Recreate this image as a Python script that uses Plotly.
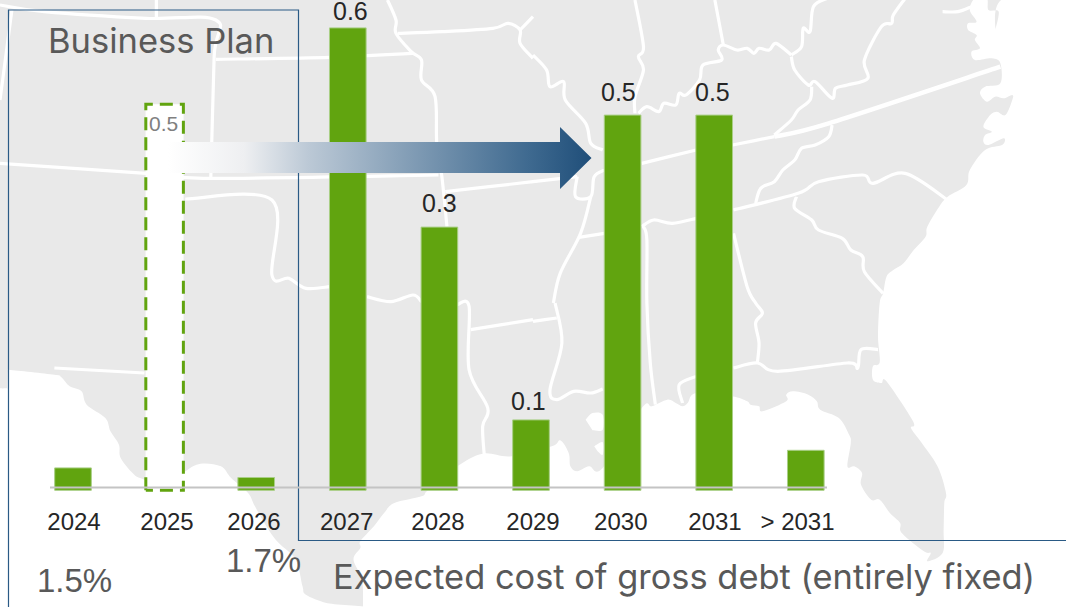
import plotly.graph_objects as go

W, H = 1066, 607

# ---------- data ----------
categories = ["2024", "2025", "2026", "2027", "2028", "2029", "2030", "2031", "> 2031"]
maturities = [0.028, None, 0.016, 0.578, 0.329, 0.088, 0.469, 0.469, 0.050]
plan_2025 = [None, 0.4825, None, None, None, None, None, None, None]
bar_labels = ["", "", "", "0.6", "0.3", "0.1", "0.5", "0.5", ""]
plan_label = "0.5"
cost_labels = ["1.5%", "1.7%"]
left_title = "Business Plan"
right_title = "Expected cost of gross debt (entirely fixed)"

# ---------- layout constants ----------
X0, DX = 73.0, 91.6
Y0, DY = 490.3, 800.0
def ax_x(p): return (p - X0) / DX
def ax_y(p): return (Y0 - p) / DY

label_px = [74, 167, 254, 346.7, 438, 533, 620.8, 715, 797.5]
label_xshift = [0, 0, 0, 2.5, 0, -2.5, -4, -2, 0]
label_yshift = [0, 0, 0, 17, 24, 19, 23, 23, 0]
GREEN = "#61A40F"
EDGE = "#A9CF86"
BLUE = "#2A5A85"
TXT = "#262626"
GREY = "#595959"
FONT = "Liberation Sans"
TITLE_FONT = "Inter"

# ---------- map helpers (background decoration, in reference pixels) ----------
def t1(p): return [(x / 2.942, y / 3) for x, y in p]
def t2(p): return [(533 + x / 2.942, y / 3) for x, y in p]
def t3(p): return [(x / 2.942, 303 + y / 3) for x, y in p]
def t4(p): return [(533 + x / 2.942, 303 + y / 3) for x, y in p]

def P(x, y): return f"{x / W:.5f},{1 - y / H:.5f}"

def smooth(pts, close=False):
    d = "M" + P(*pts[0])
    n = len(pts)
    for i in range(n - 1):
        a = pts[max(i - 1, 0)]; b = pts[i]; c = pts[i + 1]; e = pts[min(i + 2, n - 1)]
        c1 = (b[0] + (c[0] - a[0]) / 6, b[1] + (c[1] - a[1]) / 6)
        c2 = (c[0] - (e[0] - b[0]) / 6, c[1] - (e[1] - b[1]) / 6)
        d += " C" + P(*c1) + " " + P(*c2) + " " + P(*c)
    return d + (" Z" if close else "")

LAND = "#E9E9E9"
shapes = [dict(type="rect", xref="paper", yref="paper", x0=0, x1=1, y0=0, y1=1,
               fillcolor=LAND, line_width=0, layer="below")]

mexico = t3([(-5, 255), (-5, 256), (21, 256), (22, 255), (23, 215), (24, 201), (26, 200), (160, 215), (180, 222), (205, 250), (240, 265), (255, 305),
             (310, 345), (325, 385), (350, 425), (355, 465), (395, 515), (425, 530), (480, 560), (545, 505),
             (590, 482), (650, 490), (680, 525), (730, 570), (750, 610), (790, 680), (820, 720), (870, 770),
             (890, 850), (900, 875), (960, 900), (1020, 915), (-5, 915)])
sea = (t3([(1068, 915), (1065, 830), (1040, 770), (1060, 735), (1060, 715), (1100, 670), (1130, 630), (1160, 600),
           (1240, 580), (1260, 560), (1345, 490), (1420, 452), (1505, 460)])
       + t4([(55, 430), (80, 412), (105, 450), (110, 490), (130, 505), (165, 490), (205, 495), (320, 315), (350, 310),
             (395, 290), (420, 300), (440, 310), (455, 300), (480, 270), (585, 280), (630, 295), (640, 305),
             (665, 310), (675, 325), (745, 295), (745, 275), (765, 265), (810, 275), (835, 295), (845, 320),
             (900, 345), (930, 395), (935, 420), (925, 490), (945, 490), (968, 510), (965, 545), (995, 590),
             (1020, 590), (1050, 630), (1080, 660), (1085, 690), (1150, 745), (1170, 750), (1160, 775),
             (1205, 750), (1208, 680), (1210, 600), (1215, 570), (1190, 490), (1140, 415), (1112, 375),
             (1118, 355), (1040, 235), (1025, 240), (1000, 230), (1000, 190), (1020, 178), (1015, 100), (1020, 0)])
       + t2([(1030, 880), (1040, 830), (1060, 810), (1090, 790), (1120, 750), (1155, 710), (1160, 680), (1195, 620),
             (1220, 590), (1275, 555), (1285, 510), (1330, 450), (1380, 435), (1385, 415), (1340, 435), (1325, 425),
             (1330, 405), (1350, 395), (1325, 380), (1345, 345), (1365, 335), (1390, 345), (1410, 300), (1410, 285),
             (1385, 295), (1360, 290), (1335, 305), (1315, 280), (1330, 260), (1375, 250), (1375, 190), (1350, 175),
             (1300, 180), (1290, 155), (1315, 145), (1300, 120), (1305, 105), (1280, 90), (1280, 70), (1305, 65),
             (1285, 30), (1300, -5), (1335, -5), (1340, 30), (1370, 35), (1360, 90), (1385, -5)])
       + [(1072, -5), (1072, 612)])
lakes = [t4([(155, 350), (175, 330), (205, 335), (205, 380), (175, 382)]),
         t4([(180, 430), (205, 418), (205, 455), (190, 445)])]
for poly in [mexico, sea] + lakes:
    shapes.append(dict(type="path", xref="paper", yref="paper", path=smooth(poly, True),
                       fillcolor="#FFFFFF", line_width=0, layer="below"))

thin = [
    t1([(0, 15), (130, 35), (430, 55), (635, 60), (630, 170), (620, 540)]),
    t1([(460, 0), (460, 55)]),
    t1([(35, 30), (0, 300)]),
    t1([(635, 178), (970, 172), (1215, 160)]),
    t1([(1140, 0), (1165, 60), (1165, 100), (1210, 155), (1240, 180), (1240, 240), (1280, 290), (1285, 430),
        (1300, 530), (1315, 680)]),
    t3([(1345, 5), (1380, 10), (1380, 200), (1435, 315), (1420, 370), (1425, 460)]),
    t3([(1385, 80), (1568, 50)]) ,
    t4([(0, 55), (70, 45)]),
    t4([(65, 0), (85, 120), (50, 260), (70, 290), (120, 265), (170, 270), (205, 258)]),
    t1([(1170, 100), (1300, 95), (1450, 85), (1495, 70), (1530, 90), (1530, 130), (1568, 175)]),
    t1([(1530, 90), (1568, 50)]),
    t2([(0, 165), (40, 210), (50, 260), (90, 245), (95, 300), (155, 370), (170, 430), (205, 450)]),
    t2([(210, 510), (180, 530), (170, 590), (125, 590), (130, 530)]),
    t2([(170, 590), (140, 700), (80, 820), (60, 909)]),
    t2([(135, 712), (210, 700)]),
    t1([(0, 490), (430, 520), (620, 535), (1290, 525)]),
    t1([(1310, 575), (1568, 545)]) + t2([(0, 545), (130, 530)]),
    t1([(545, 597), (800, 600), (800, 825), (850, 835), (900, 865), (970, 860)]),
    t1([(1080, 890), (1150, 905), (1215, 885), (1240, 905)]),
    t3([(160, 195), (425, 210)]),
    t2([(300, 0), (325, 140), (310, 170), (325, 210), (300, 290), (300, 340)]),
    t2([(310, 340), (335, 320), (370, 335), (385, 310), (420, 315), (430, 280), (450, 285), (490, 240), (500, 195),
        (555, 180), (545, 150), (560, 135), (600, 150), (630, 145), (650, 160), (665, 145), (695, 150), (715, 130),
        (760, 165)]),
    t2([(535, 0), (560, 135)]),
    t2([(760, 165), (790, 140), (795, 85), (815, 95), (825, 20), (865, -5)]),
    t2([(760, 170), (770, 210), (810, 255), (830, 245), (880, 295), (890, 265), (925, 255), (985, 235), (975, 180),
        (1025, 80), (1055, 70), (1060, 45), (1095, -5)]),
    t2([(820, 260), (815, 300), (780, 330), (760, 360), (710, 405)]),
    t2([(320, 490), (480, 450)]),
    t2([(587, 435), (710, 410)]),
    t2([(880, 375), (870, 410), (830, 435), (790, 445), (770, 480), (735, 510), (710, 545), (670, 565), (655, 610)]),
    t2([(590, 630), (780, 580), (840, 545), (970, 525), (1000, 550), (1095, 520), (1220, 600)]),
    t2([(775, 590), (770, 625), (820, 660), (840, 690), (910, 715), (935, 750), (970, 770), (975, 815), (1030, 880)]),
    t2([(320, 680), (355, 660), (410, 670), (480, 655)]),
    t2([(325, 680), (335, 720), (335, 909)]) + t4([(345, 180), (360, 305)]),
    t2([(590, 700), (630, 860), (655, 909)]) + t4([(675, 30), (655, 60), (665, 120), (660, 180)]),
    t4([(590, 195), (660, 180), (720, 205), (925, 180), (955, 195), (965, 140), (1015, 140)]),
    t4([(480, 220), (430, 245), (440, 300)]),
    t2([(1205, 35), (1250, 35), (1290, 20)]),
]
for ln in thin:
    shapes.append(dict(type="path", xref="paper", yref="paper", path=smooth(ln),
                       line=dict(color="#FFFFFF", width=3.2), layer="below"))
shapes.append(dict(type="path", xref="paper", yref="paper", path=smooth(t2([(710, 410), (870, 370), (1375, 200)])),
                   line=dict(color="#FFFFFF", width=4.5), layer="below"))

# frame of the two periods
shapes.append(dict(type="path", xref="paper", yref="paper",
                   path=f"M{P(8.5, 612)} L{P(8.5, 10)} L{P(298.5, 10)} L{P(298.5, 540.5)} L{P(1070, 540.5)}",
                   line=dict(color=BLUE, width=1.2), layer="below"))

# baseline
shapes.append(dict(type="line", xref="paper", yref="paper", x0=50 / W, x1=827 / W,
                   y0=1 - 487.5 / H, y1=1 - 487.5 / H, line=dict(color="#C4C4C4", width=2), layer="above"))

# ---------- figure ----------
xs = list(range(len(categories)))
fig = go.Figure()
fig.add_bar(x=xs, y=maturities, width=0.4, marker=dict(color=GREEN, line=dict(color=EDGE, width=1)),
            hoverinfo="skip", showlegend=False)
fig.add_bar(x=xs, y=plan_2025, width=0.415, marker=dict(color="#FFFFFF", line_width=0),
            hoverinfo="skip", showlegend=False)

# dashed outline of the 2025 bar (a trace, so that the arrow's white end covers it)
v25 = plan_2025[1]
fig.add_scatter(x=[1 - 0.205, 1 - 0.205, 1 + 0.205, 1 + 0.205, 1 - 0.205], y=[0, v25, v25, 0, 0], mode="lines",
                line=dict(color=GREEN, width=3, dash="13px,7px"), hoverinfo="skip", showlegend=False)

# gradient arrow
ax = [168, 560, 560, 591.5, 560, 560, 168, 168]
ay = [142, 142, 127, 158, 189, 173, 173, 142]
fig.add_scatter(x=[ax_x(v) for v in ax], y=[ax_y(v) for v in ay], mode="lines", fill="toself",
                line=dict(width=0, color="rgba(0,0,0,0)"), hoverinfo="skip", showlegend=False,
                fillgradient=dict(type="horizontal", colorscale=[
                    [0, "#FFFFFF"], [0.18, "#EEEFF1"], [0.33, "#BCC9D6"], [0.85, "#3F6A90"], [1, "#1F4E79"]]))

def note(text, x, y, size, color=GREY, family=FONT):
    return dict(text=text, xref="paper", yref="paper", x=x / W, y=1 - y / H, xanchor="center", yanchor="middle",
                showarrow=False, font=dict(family=family, size=size, color=color))

annotations = [note(left_title, 160.5, 41, 34.5, family=TITLE_FONT), note(right_title, 683.5, 576, 34.4, family=TITLE_FONT),
               note(cost_labels[0], 74.5, 580, 33), note(cost_labels[1], 263.5, 560, 33)]
for i, (t, v) in enumerate(zip(bar_labels, maturities)):
    if t:
        annotations.append(dict(text=t, xref="x", yref="y", x=i, y=v, xshift=label_xshift[i], yshift=label_yshift[i],
                                yanchor="middle", showarrow=False, font=dict(family=FONT, size=25, color=TXT)))
annotations.append(dict(text=plan_label, xref="x", yref="y", x=1, y=v25, xshift=-1, yshift=-19, yanchor="middle",
                        showarrow=False, font=dict(family=FONT, size=21, color="#808080")))

fig.update_layout(
    width=W, height=H, margin=dict(l=0, r=0, t=0, b=0), paper_bgcolor="#FFFFFF", plot_bgcolor="rgba(0,0,0,0)",
    barmode="overlay", shapes=shapes, showlegend=False, annotations=annotations,
    xaxis=dict(range=[ax_x(0), ax_x(W)], tickmode="array", tickvals=[ax_x(p) for p in label_px], ticktext=categories,
               tickfont=dict(family=FONT, size=24, color=TXT), ticks="", showline=False, showgrid=False,
               zeroline=False, anchor="free", position=1 - 505 / H, fixedrange=True),
    yaxis=dict(range=[ax_y(H), ax_y(0)], visible=False, fixedrange=True),
)
fig.write_html("out.html", config={"displayModeBar": False},
               post_script="document.body.style.margin='0';document.body.style.overflow='hidden';")
